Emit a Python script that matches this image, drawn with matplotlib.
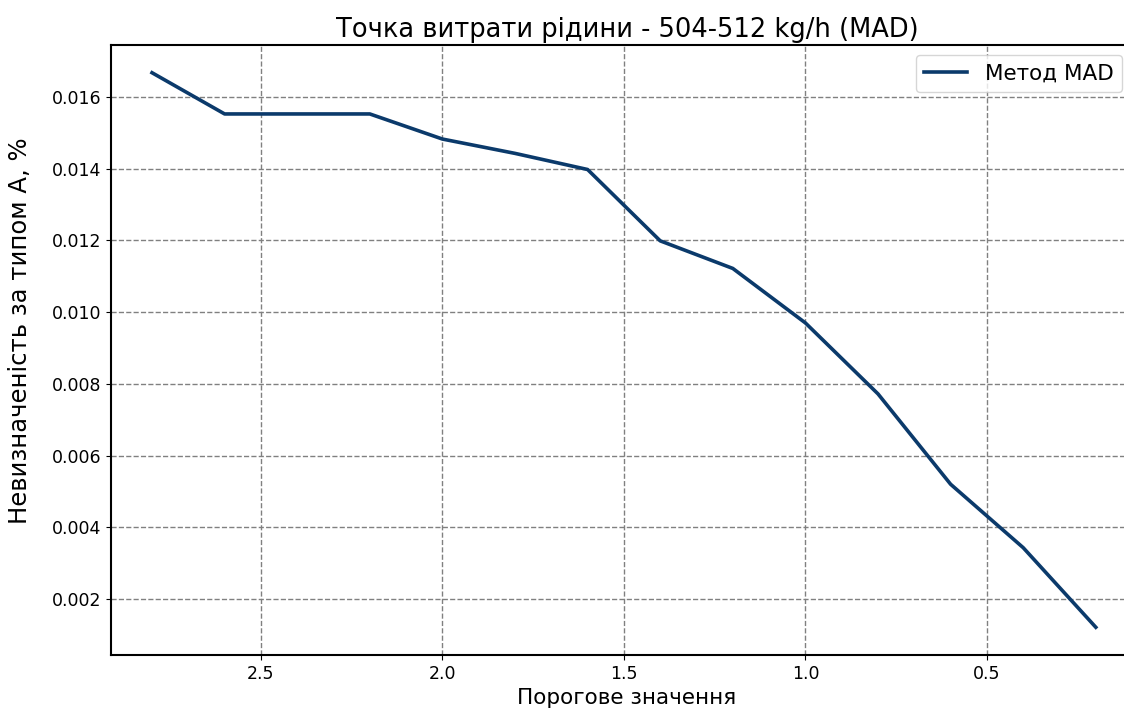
import matplotlib
matplotlib.use("Agg")
import matplotlib.pyplot as plt

thresholds = [2.8, 2.6, 2.4, 2.2, 2.0, 1.8, 1.6, 1.4, 1.2, 1.0, 0.8, 0.6, 0.4, 0.2]
uncertainty = [0.01668, 0.01553, 0.01553, 0.01553, 0.01483, 0.01443, 0.01398,
               0.01199, 0.01122, 0.00970, 0.00772, 0.00520, 0.00343, 0.00121]

title = "Точка витрати рідини - 504-512 kg/h (MAD)"
xlabel = "Порогове значення"
ylabel = "Невизначеність за типом А, %"
legend_label = "Метод MAD"

fig = plt.figure(figsize=(11.24, 7.14), dpi=100)
ax = fig.add_axes([111/1124, 59/714, (1143-111)/1124, (655-45)/714])
ax.plot(thresholds, uncertainty, color="#0b3a6b", linewidth=2.6, label=legend_label)
ax.set_xlim(2.913, 0.07)
ax.set_xticks([2.5, 2.0, 1.5, 1.0, 0.5])
ax.set_yticks([0.002, 0.004, 0.006, 0.008, 0.010, 0.012, 0.014, 0.016])
ax.grid(True, linestyle="--", color="gray", linewidth=1.0)
ax.tick_params(labelsize=12.5)
ax.set_xlabel(xlabel, fontsize=15.5)
ax.set_ylabel(ylabel, fontsize=17.5)
ax.yaxis.set_label_coords(-0.077, 0.532)
ax.set_title(title, fontsize=18.5)
for s in ax.spines.values():
    s.set_linewidth(1.5)
ax.spines["right"].set_visible(False)
leg = ax.legend(loc="upper right", fontsize=15.5, bbox_to_anchor=(0.9797, 0.9836),
                borderaxespad=0)
fig.savefig("out.png", dpi=100)
